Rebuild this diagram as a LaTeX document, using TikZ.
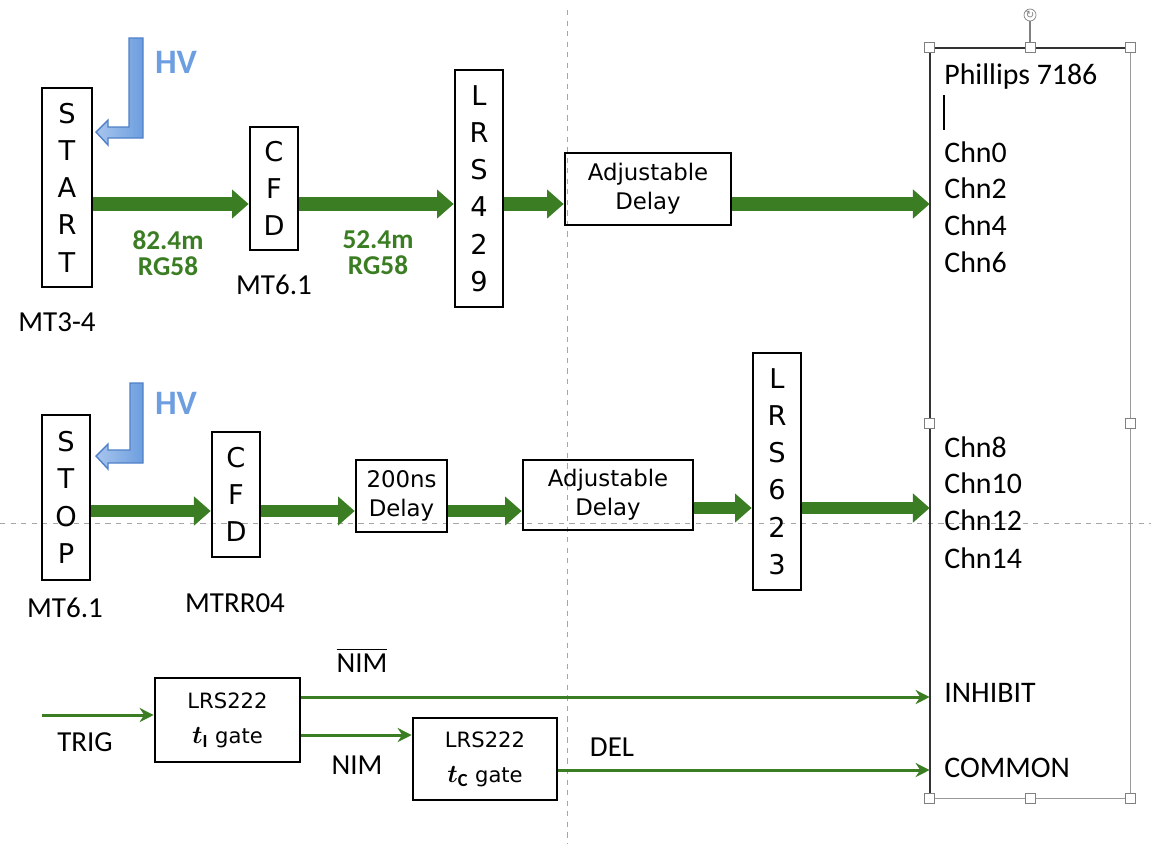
\documentclass[tikz,border=0pt]{standalone}
\usepackage{amsmath}
\usepackage{fontspec}
\setmainfont{Carlito}
\newfontfamily\boxfont{DejaVu Sans}
\usetikzlibrary{arrows.meta}
\definecolor{sig}{HTML}{3B7D23}
\definecolor{hvblue}{HTML}{6D9EE0}
\definecolor{hvedge}{HTML}{4F80C8}

\begin{document}
\begin{tikzpicture}[x=0.02cm, y=-0.02cm,
  unit/.style={draw, line width=1.5pt, inner sep=0pt, align=center,
    font=\boxfont\fontsize{15.5}{21.2}\selectfont},
  delaybox/.style={draw, line width=1.5pt, inner sep=0pt, align=center,
    font=\boxfont\fontsize{13}{16.5}\selectfont},
  gatebox/.style={draw, line width=1.5pt, inner sep=0pt, align=center,
    font=\boxfont\fontsize{12}{20}\selectfont},
  lbl/.style={inner sep=0pt, font=\fontsize{16.5}{20}\selectfont},
  chn/.style={anchor=west, inner sep=0pt, font=\fontsize{17}{20}\selectfont},
  cable/.style={text=sig, align=center, font=\bfseries\fontsize{15.5}{14.8}\selectfont},
  hvlbl/.style={text=hvblue, font=\bfseries\fontsize{19.5}{22}\selectfont},
  bigarrow/.style={draw=sig, line width=7.8pt, -{Triangle[length=9.5pt,width=16pt]}},
  thinarrow/.style={draw=sig, line width=1.7pt, -{Stealth[length=8pt,width=8pt]}},
  hvshape/.style={draw=hvedge, line width=0.8pt, left color=hvblue!60, right color=hvblue},
  guide/.style={draw=gray!70, dashed, line width=0.5pt},
  handle/.style={draw=gray, fill=white, line width=0.5pt, minimum size=0.2cm, inner sep=0pt}
]
\useasboundingbox (0,0) rectangle (1151,843);

% guide lines
\draw[guide] (567,10) -- (567,843);
\draw[guide] (0,523) -- (1151,523);

% first row
\node[unit, minimum width=1cm, minimum height=3.98cm] (start) at (67,187.5) {S\\T\\A\\R\\T};
\node[unit, minimum width=0.96cm, minimum height=2.46cm] (cfdA) at (274,188.5) {C\\F\\D};
\node[unit, minimum width=0.96cm, minimum height=4.74cm] (lrsA) at (479,188.5) {L\\R\\S\\4\\2\\9};
\node[delaybox, minimum width=3.32cm, minimum height=1.44cm] (adjA) at (648,189) {Adjustable\\Delay};
\node[lbl] (mtA) at (57,322) {MT3-4};
\node[lbl] (mtB) at (274,285) {MT6.1};
\node[cable] (cabA) at (168,253) {82.4m\\RG58};
\node[cable] (cabB) at (378,253) {52.4m\\RG58};
\node[hvlbl] (hvA) at (176,62) {HV};
\draw[hvshape] (96,132) -- ++(12,-12) -- ++(0,7) -- ++(21,0) -- ++(0,-89) -- ++(14,0)
  -- ++(0,100) -- ++(-35,0) -- ++(0,7) -- cycle;

% second row
\node[unit, minimum width=0.96cm, minimum height=3.3cm] (stop) at (66,497.5) {S\\T\\O\\P};
\node[unit, minimum width=0.96cm, minimum height=2.5cm] (cfdB) at (236,494.5) {C\\F\\D};
\node[delaybox, minimum width=1.82cm, minimum height=1.44cm] (dlyB) at (401.5,496) {200ns\\Delay};
\node[delaybox, minimum width=3.4cm, minimum height=1.4cm] (adjB) at (608,495) {Adjustable\\Delay};
\node[unit, minimum width=0.96cm, minimum height=4.74cm] (lrsB) at (777,471.5) {L\\R\\S\\6\\2\\3};
\node[lbl] (mtC) at (65,608) {MT6.1};
\node[lbl] (mtD) at (235,603) {MTRR04};
\node[hvlbl] (hvB) at (176,403) {HV};
\draw[hvshape] (96,456) -- ++(12,-12) -- ++(0,6) -- ++(22,0) -- ++(0,-67) -- ++(13,0)
  -- ++(0,80) -- ++(-35,0) -- ++(0,6) -- cycle;

% gates
\node[gatebox, minimum width=2.9cm, minimum height=1.68cm] (gateI) at (227.5,720)
  {LRS222\\{\fontsize{15}{15}\selectfont$\boldsymbol{t}_{\mathbf{I}}$} gate};
\node[gatebox, minimum width=2.88cm, minimum height=1.64cm] (gateC) at (485,759)
  {LRS222\\{\fontsize{15}{15}\selectfont$\boldsymbol{t}_{\mathbf{C}}$} gate};
\node[lbl] (trigL) at (85,742) {TRIG};
\node[lbl] (nimbar) at (362,660) {$\overline{\text{NIM}}$};
\node[lbl] (nimL) at (357,765) {NIM};
\node[lbl] (delL) at (612,747) {DEL};

% Phillips 7186
\node[minimum width=4cm, minimum height=15cm, inner sep=0pt] (phil) at (1030,423) {};
\draw[gray!80, line width=0.6pt] (phil.north east) -- (phil.south east) -- (phil.south west);
\draw[line width=1.2pt, black!80] (phil.south west) -- (phil.north west) -- (phil.north east);
\node[chn] (model) at (944,77) {Phillips 7186};
\draw[line width=1pt] (944,95) -- (944,130);
\node[chn] (c0) at (944,152) {Chn0};
\node[chn] (c2) at (944,188) {Chn2};
\node[chn] (c4) at (944,225) {Chn4};
\node[chn] (c6) at (944,262) {Chn6};
\node[chn] (c8) at (944,447) {Chn8};
\node[chn] (c10) at (944,483) {Chn10};
\node[chn] (c12) at (944,520) {Chn12};
\node[chn] (c14) at (944,558) {Chn14};
\node[chn] (inh) at (944,693) {INHIBIT};
\node[chn] (com) at (944,768) {COMMON};
\foreach \a/\n in {north west/nw, north/n, north east/ne, west/w, east/e, south west/sw, south/s, south east/se}
  \node[handle] (h\n) at (phil.\a) {};
\node[draw=gray, fill=white, circle, inner sep=0pt, minimum size=0.24cm,
  font=\boxfont\fontsize{6}{6}\selectfont, text=gray] (rot) at (1030,15) {↻};
\draw[gray, line width=0.6pt] (rot) -- (hn);

% signals
\coordinate (rowA) at (0,204);
\coordinate (rowB) at (0,511);
\coordinate (rowC) at (0,508);
\draw[bigarrow] (start.east |- rowA) -- (cfdA.west |- rowA);
\draw[bigarrow] (cfdA.east |- rowA) -- (lrsA.west |- rowA);
\draw[bigarrow] (lrsA.east |- rowA) -- (adjA.west |- rowA);
\draw[bigarrow] (adjA.east |- rowA) -- (phil.west |- rowA);
\draw[bigarrow, line width=6.8pt] (stop.east |- rowB) -- (cfdB.west |- rowB);
\draw[bigarrow, line width=6.8pt] (cfdB.east |- rowB) -- (dlyB.west |- rowB);
\draw[bigarrow, line width=6.8pt] (dlyB.east |- rowB) -- (adjB.west |- rowB);
\draw[bigarrow, line width=6.8pt] (adjB.east |- rowC) -- (lrsB.west |- rowC);
\draw[bigarrow, line width=6.8pt] (lrsB.east |- rowC) -- (phil.west |- rowC);

\coordinate (trig) at (42,715);
\coordinate (inhY) at (0,697);
\coordinate (nimY) at (0,735);
\coordinate (comY) at (0,770);
\draw[thinarrow] (trig) -- (gateI.west |- trig);
\draw[thinarrow] (gateI.east |- inhY) -- (phil.west |- inhY);
\draw[thinarrow] (gateI.east |- nimY) -- (gateC.west |- nimY);
\draw[thinarrow] (gateC.east |- comY) -- (phil.west |- comY);
\end{tikzpicture}
\end{document}
